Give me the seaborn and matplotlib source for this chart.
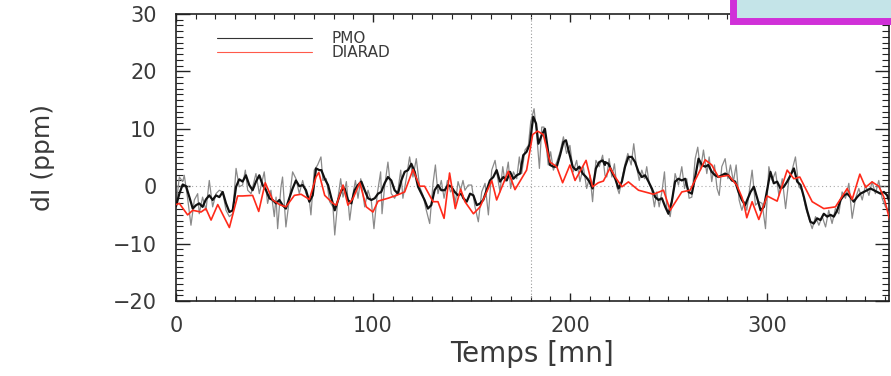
import numpy as np
import pandas as pd
import matplotlib
matplotlib.use("Agg")
import matplotlib.pyplot as plt
from matplotlib.lines import Line2D
from matplotlib.patches import Rectangle
from matplotlib.ticker import MultipleLocator
import seaborn as sns

sns.set_style("ticks")
plt.rcParams['font.family'] = ['DejaVu Sans']

# ---------------------------------------------------------------
# PMO, signal brut (gris)
pmo_raw_t = [0.0, 1.7, 3.4, 4.2, 5.9, 7.6, 9.3, 11.0, 11.8, 13.5, 15.2, 16.9, 18.6, 20.3, 22.0,
             23.7, 25.4, 27.1, 28.8, 30.5, 32.1, 33.8, 35.2, 36.4, 38.1, 40.6, 42.3, 44.8, 46.5,
             48.2, 49.9, 50.8, 51.6, 53.3, 54.1, 55.8, 57.5, 59.2, 60.9, 62.6, 64.3, 66.0, 67.7,
             68.5, 70.2, 71.9, 73.6,
             74.6, 76.3, 78.0, 79.7, 80.6, 82.3, 83.6, 84.8, 86.5, 88.2, 89.9, 91.1, 92.4, 93.8,
             95.8, 97.5, 99.2, 100.5, 102.2, 103.9, 104.6, 105.9, 107.6, 109.3, 111.0, 112.7,
             114.1, 115.2, 116.9, 118.6, 120.3, 122.0, 123.7, 125.4, 127.1, 128.8, 130.5, 131.7,
             133.0, 134.7, 136.1, 137.8, 139.4, 140.6, 141.8, 143.2, 144.5, 145.7,
             146.7, 148.4, 150.1, 151.8, 153.5, 155.2, 156.9, 158.6, 160.3, 162.0, 163.1, 164.5,
             165.9, 167.0, 168.7, 169.9, 171.3, 173.0, 174.3, 175.5, 177.2, 178.9, 180.1, 181.8,
             183.1, 184.5, 185.7, 186.8, 187.9, 189.0, 190.2, 191.6, 193.3, 195.0, 196.7, 198.3,
             200.0, 201.7, 203.4, 205.1, 206.8, 208.5, 210.2, 211.5, 213.2, 214.9, 216.6, 217.8,
             218.7, 219.9, 221.3, 222.6, 223.8, 225.0, 226.4, 228.0, 229.4, 231.1, 232.4, 233.8,
             235.2, 236.5, 237.9, 239.0, 240.2, 241.6, 242.9, 244.1, 245.3, 246.7, 248.0, 249.2,
             250.9, 252.2, 253.4, 255.1, 256.8, 258.2, 259.3, 260.5, 261.9, 263.6, 264.9, 266.3,
             267.8, 269.5, 270.7, 272.0, 273.4, 274.7, 275.8, 277.1, 278.8, 280.2, 281.5, 283.0,
             284.4, 285.9, 287.3, 288.6, 289.8,
             290.8, 292.5, 294.2, 295.9, 297.6, 299.3, 301.0, 302.7, 304.4, 306.1, 307.8, 309.5,
             311.1, 312.8, 314.5, 316.2, 317.9, 319.6, 321.3, 323.0, 324.7, 326.4, 328.1, 329.8,
             331.4, 333.1, 334.8, 336.5, 338.2, 339.9, 341.6, 343.3, 345.0, 346.7, 348.4, 350.1,
             351.8, 353.4, 355.1, 356.8, 358.5, 360.2, 361.9]
pmo_raw_v = [-3.5, 1.6, 0.8, 1.9, -2.1, -6.8, -2.4, -1.3, -4.8, -1.9, -4.2, 1.0, -3.6, -1.3, -0.7,
             -1.0, -4.2, -5.3, -4.8, 3.1, -0.1, 0.2, 2.8, -0.7, -1.3, 2.2, -1.3, 2.5, -3.0,
             -0.7, -5.3, -1.9, -7.4, -0.1, 1.6, -7.1, -2.4, 2.5, 1.3, -1.3, 1.0, -1.3, -2.4,
             -5.0, 2.8, 3.7, 5.1,
             1.0, 1.3, -2.7, -3.6, -8.5, -1.9, 1.3, -1.9, 0.8, -5.9, -1.3, 1.0, -2.1, 1.3,
             -3.6, -0.7, -2.7, -7.4, -1.3, 2.5, -4.8, -0.1, 4.2, -1.3, -2.1, -0.7,
             2.8, -2.1, 1.3, 5.1, 1.6, 4.8, -0.1, -1.6, -4.2, -6.5, 0.5, 3.7,
             -1.3, 1.0, -2.1, 1.0, -1.0, -0.4, -3.0, 0.8, -0.7, 1.0,
             -0.7, 0.2, 0.2, -3.6, -6.2, -1.0, 0.5, -5.0, 2.8, 4.5, 1.9, -1.0,
             3.4, 0.8, 4.2, -0.4, 2.5, 1.3, 5.1, 2.2, 6.3, 7.1, 11.2, 13.5,
             9.2, 3.1, 10.3, 10.3, 7.1, 3.7, 6.0, 2.8, 4.2, 6.0, 8.6, 5.7,
             7.1, 2.5, 4.5, 0.8, 3.4, -0.4, 1.9, -2.7, 4.5, 3.4, 5.4, 1.9,
             1.6, 4.8, 1.6, 3.9, -0.1, -1.3, 1.3, 3.9, 5.7, 3.7, 7.4, 3.4,
             1.0, 2.8, 1.3, 3.4, 0.5, -0.7, -3.6, -1.0, -3.6, -1.0, 2.5, -3.9,
             -5.3, -1.9, 2.2, 0.2, 3.4, -0.4, 1.3, -2.1, -1.9, 4.8, 6.8, 2.8,
             6.3, 2.2, 5.1, 0.8, 3.7, -0.4, -1.6, 3.4, 4.8, 1.3, 3.7, 0.8,
             3.7, -2.4, -4.2, -2.7, -4.2,
             -1.6, 2.8, -3.3, -2.7, -3.0, -7.4, 3.4, 1.0, 2.5, -1.6, 1.3, -3.9,
             1.0, 2.8, 5.1, -0.1, -0.7, -3.6, -5.6, -7.4, -5.3, -6.8, -5.3, -7.1,
             -4.2, -6.5, -3.9, -4.8, -1.0, -2.1, 0.5, -5.6, -2.1, -0.4, -2.4, 0.2,
             -1.6, 0.8, -1.3, 1.0, -2.1, -3.6, -4.2]

# PMO, signal lisse (noir)
pmo_t = [0.0, 1.7, 3.4, 5.1, 6.8, 8.5, 10.2, 11.8, 13.5, 15.2, 16.9, 18.6, 20.3, 22.0, 23.7,
         25.4, 27.1, 28.8, 30.5, 32.1, 33.8, 35.5, 37.2, 38.9, 40.6, 42.3, 44.0, 45.7, 47.4,
         49.1, 50.8, 52.5, 54.1, 55.8, 57.5, 59.2, 60.9, 62.6, 64.3, 66.0, 67.7, 69.4, 71.1,
         72.8,
         73.8, 75.5, 77.2, 78.9, 80.6, 82.3, 84.0, 85.6, 87.3, 89.0, 90.7, 92.4, 94.1, 95.8,
         97.5, 99.2, 100.9, 102.6, 104.2, 105.9, 107.6, 109.3, 111.0, 112.7, 114.4, 116.1,
         117.8, 119.5, 121.2, 122.9, 124.6, 126.2, 127.9, 129.6, 131.3, 133.0, 134.7, 136.4,
         138.1, 139.8, 141.5, 143.2, 144.9,
         145.9, 147.6, 149.3, 151.0, 152.7, 154.4, 156.0, 157.7, 159.4, 161.1, 162.8, 164.5,
         166.2, 167.9, 169.6, 171.3, 173.0, 174.7, 176.3, 178.0, 179.7, 180.6, 181.4, 182.8,
         184.0, 185.7, 187.3, 188.5, 189.9, 191.6, 193.3, 195.0, 196.7, 198.0, 199.7, 201.4,
         203.1, 204.8, 206.5, 208.2, 209.9, 211.5, 213.2, 214.9, 216.6, 217.8,
         217.9, 219.6, 221.3, 223.0, 224.7, 226.4, 228.0, 229.7, 231.4, 233.1, 234.8, 236.5,
         238.2, 239.9, 241.6, 243.3, 245.0, 246.7, 248.4, 250.0, 251.7, 253.4, 255.1, 256.8,
         258.5, 260.2, 261.9, 263.6, 265.3, 267.0, 268.7, 270.3, 272.0, 273.7, 275.4, 277.1,
         278.8, 280.5, 282.2, 283.9, 285.6, 287.3, 289.0,
         290.0, 291.7, 293.4, 295.1, 296.8, 298.5, 300.1, 301.8, 303.5, 305.2, 306.9, 308.6,
         310.3, 312.0, 313.7, 315.4, 317.1, 318.8, 320.4, 322.1, 323.8, 325.5, 327.2, 328.9,
         330.6, 332.3, 334.0, 335.7, 337.4, 339.1, 340.8, 342.4, 344.1, 345.8, 347.5, 349.2,
         350.9, 352.6, 354.3, 356.0, 357.7, 359.4, 361.1, 362.0]
pmo_v = [-3.5, -1.3, 0.3, 0.0, -1.9, -3.9, -3.3, -3.0, -3.6, -2.3, -1.6, -2.4, -1.6, -1.9, -1.0,
         -3.0, -4.5, -4.2, -0.1, 1.2, 0.8, 1.9, 0.2, -0.7, 0.8, 1.9, 0.2, -0.7, -2.1,
         -2.4, -3.0, -2.4, -3.3, -3.9, -2.1, -0.4, 1.0, 0.0, 0.2, -0.7, -2.7, -1.6, 3.1,
         2.8,
         2.8, 1.3, 0.2, -2.1, -4.2, -2.4, -0.7, -0.4, -2.4, -3.0, -0.7, 0.2, 0.8, -0.7,
         -2.1, -2.4, -2.1, -1.3, -1.0, 0.5, 1.6, 1.0, -0.7, -1.3, 1.0, 2.5,
         2.8, 3.9, 2.5, -0.1, -1.3, -2.4, -3.9, -3.3, -0.7, 0.2, -0.7, -0.7,
         0.2, -0.1, -1.0, -1.6, -1.3,
         -2.1, -2.7, -1.3, -1.6, -3.3, -3.0, -2.4, -0.7, 1.0, 1.6, 2.8, 0.8,
         1.6, 1.0, 2.5, 1.3, 1.9, 2.2, 5.4, 6.0, 7.4, 10.0, 12.1, 10.9,
         7.4, 8.9, 10.0, 7.1, 3.7, 3.4, 3.4, 5.4, 7.7, 8.0, 5.7, 3.4,
         2.8, 3.4, 2.2, 1.6, 0.8, -0.4, 3.1, 4.2, 4.5, 3.7,
         4.2, 3.9, 2.5, 1.3, -0.4, 0.8, 3.4, 5.1, 5.1, 4.2, 2.5, 1.6,
         1.9, 0.8, -0.4, -1.9, -2.4, -2.1, -3.6, -4.8, -2.7, 0.8, 1.3, 1.0,
         1.3, -1.0, -1.3, 1.6, 4.8, 3.7, 3.4, 3.7, 2.5, 1.9, 1.6, 1.9,
         2.2, 1.9, 1.0, 0.8, -1.0, -2.4, -3.3,
         -2.4, -1.0, -0.1, -2.1, -4.2, -3.6, -0.7, 2.5, 0.5, 0.8, -0.4, -0.1,
         0.8, 1.9, 3.1, 0.8, 0.2, -1.9, -4.2, -6.2, -6.5, -5.6, -5.9, -4.8,
         -5.3, -5.0, -5.3, -4.2, -2.4, -1.6, -1.3, -1.9, -2.7, -1.9, -1.3, -1.0,
         -0.7, -0.4, -0.7, -1.0, -1.3, -1.0, -1.6, -2.5]

# DIARAD (rouge)
diarad_t = [0.0, 1.7, 5.9, 8.5, 12.7, 15.2, 17.8, 21.2, 27.1, 31.3, 33.8, 38.9, 42.0, 45.3,
            49.1, 52.5, 55.8, 60.1, 63.5, 67.7, 71.1, 72.5, 75.5, 79.7, 81.4, 84.8, 87.3,
            89.9, 93.3, 96.6, 100.0, 102.6, 107.6, 111.9, 116.1, 120.3, 123.7, 126.2, 130.5,
            133.0, 136.1, 138.9, 141.8, 144.5, 146.7, 151.0, 154.4, 160.3, 162.8, 168.7,
            172.1, 178.0, 181.1, 183.5, 186.5, 189.9, 193.3, 196.3, 200.0, 202.6, 208.2,
            211.5, 214.4, 217.0, 220.4, 223.0, 226.4, 229.7, 234.8, 242.4, 247.5, 250.9,
            256.8, 261.0, 264.4, 268.7, 272.0, 275.4, 280.5, 284.7, 287.3, 288.3, 289.8,
            292.5, 295.9, 300.1, 305.2, 310.3, 313.7, 316.7, 323.0, 328.9, 334.8, 340.8,
            343.3, 347.2, 350.1, 353.4, 356.8, 359.4, 362.8]
diarad_v = [-3.2, -3.0, -5.0, -4.2, -4.5, -3.9, -5.9, -3.2, -7.2, -1.7, -1.7, -1.6, -4.4, 0.6,
            -2.4, -3.2, -3.6, -1.6, -1.4, -2.3, 1.6, 2.4, -1.6, -3.0, -3.3, 0.2, -3.3,
            -2.1, 0.6, -3.6, -4.5, -2.6, -2.1, -1.6, -1.0, 2.9, 0.0, 0.0, -2.7,
            -2.7, -5.6, 2.3, -3.9, -0.5, -2.7, -4.8, -3.6, 1.0, -2.4, 2.6,
            -0.6, 2.8, 9.0, 9.6, 9.0, 4.2, 3.4, 0.6, 3.7, 1.0, 4.5,
            -0.1, 0.6, 0.9, 3.2, 1.6, -0.1, 0.75, -0.7, -1.4, -0.7, -4.2,
            -1.0, -0.7, 1.6, 4.6, 3.7, 1.6, 1.9, 0.2, -1.9, -3.0, -5.5,
            -2.7, -5.8, -1.7, -2.6, 2.8, 1.3, 1.6, -2.7, -3.9, -3.6, -0.4,
            -2.3, 2.1, -0.2, 0.75, 0.0, -1.9, -6.5]

raw = pd.DataFrame({"Temps": pmo_raw_t, "dI": pmo_raw_v})
pmo = pd.DataFrame({"Temps": pmo_t, "dI": pmo_v})
dia = pd.DataFrame({"Temps": diarad_t, "dI": diarad_v})

# ---------------------------------------------------------------
fig = plt.figure(figsize=(8.91, 3.76), dpi=100)
ax = fig.add_axes([176/891, 1-301/376, 713/891, 287/376])

ax.axvline(180, color="#999999", lw=0.8, ls=(0, (1, 2)), zorder=1)
ax.axhline(0, color="#aaaaaa", lw=0.8, ls=(0, (1, 2.5)), zorder=1)

sns.lineplot(data=raw, x="Temps", y="dI", ax=ax, color="#8a8a8a", lw=0.9,
             estimator=None, sort=False, zorder=2)
sns.lineplot(data=pmo, x="Temps", y="dI", ax=ax, color="#111111", lw=1.6,
             estimator=None, sort=False, zorder=3)
sns.lineplot(data=dia, x="Temps", y="dI", ax=ax, color="#ff2a1a", lw=1.2,
             estimator=None, sort=False, zorder=4)

ax.set_xlim(0, 362)
ax.set_ylim(-20, 30)
ax.xaxis.set_major_locator(MultipleLocator(100))
ax.xaxis.set_minor_locator(MultipleLocator(10))
ax.yaxis.set_major_locator(MultipleLocator(10))
ax.yaxis.set_minor_locator(MultipleLocator(1))
ax.tick_params(which="both", direction="in", top=True, right=True, color="#222222")
ax.tick_params(axis="y", which="major", length=10, width=1.0, pad=14,
               labelsize=15, labelcolor="#3a3a3a")
ax.tick_params(axis="y", which="minor", length=5, width=0.8)
ax.tick_params(axis="x", which="major", length=6, width=1.0, pad=11,
               labelsize=15, labelcolor="#3a3a3a")
ax.tick_params(axis="x", which="minor", length=3.5, width=0.8)
for s in ax.spines.values():
    s.set_linewidth(1.2)
    s.set_color("#222222")

ax.set_xlabel("Temps [mn]", fontsize=20, color="#3a3a3a")
ax.set_ylabel("dI (ppm)", fontsize=18, color="#3a3a3a")
ax.xaxis.set_label_coords(0.5, -0.135)
ax.yaxis.set_label_coords(-0.17, 0.5)

handles = [Line2D([], [], color="#333333", lw=0.8),
           Line2D([], [], color="#ff5a4a", lw=0.8)]
ax.legend(handles, ["PMO", "DIARAD"], loc="upper left", frameon=False,
          bbox_to_anchor=(0.0575, 0.94), borderpad=0, borderaxespad=0,
          handlelength=6.2, handletextpad=1.3, labelspacing=-0.05,
          fontsize=11, labelcolor="#3a3a3a")

# encadre magenta coupe en haut a droite
fig.patches.append(Rectangle((733/891, 1-21/376), 170/891, 60/376,
                             transform=fig.transFigure, facecolor="#c4e4e8",
                             edgecolor="#d030d8", lw=5, zorder=5))

plt.savefig("out.png", dpi=100)
plt.close()
